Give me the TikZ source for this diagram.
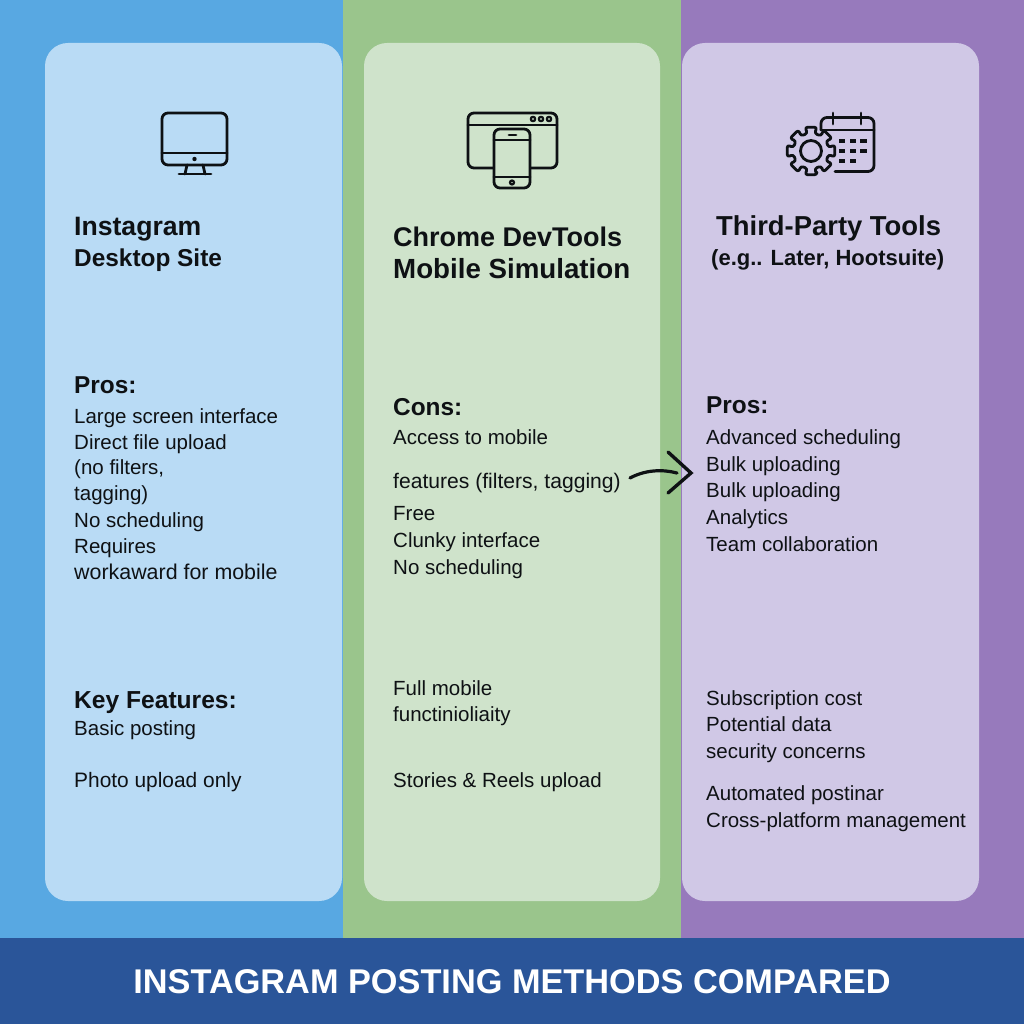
\documentclass[tikz,border=0pt]{standalone}
\usepackage{fontspec}
\setmainfont{Liberation Sans}
\definecolor{blueband}{HTML}{58A8E2}
\definecolor{greenband}{HTML}{9AC58C}
\definecolor{purpleband}{HTML}{977ABC}
\definecolor{bluecard}{HTML}{B9DBF5}
\definecolor{greencard}{HTML}{CFE3CB}
\definecolor{purplecard}{HTML}{D0C8E6}
\definecolor{footerblue}{HTML}{2A5599}
\definecolor{inkdark}{HTML}{0E1114}
\tikzset{
	bodytext/.style={anchor=base west, inner sep=0pt, text=inkdark, font=\fontsize{20.5}{24}\selectfont},
	headtext/.style={anchor=base west, inner sep=0pt, text=inkdark, font=\fontsize{24.4}{28}\selectfont\bfseries},
	titletext/.style={anchor=base west, inner sep=0pt, text=inkdark, font=\fontsize{27}{30}\selectfont\bfseries},
	icon/.style={line width=2.8pt, draw=inkdark, line cap=round, line join=round},
	card/.style={rounded corners=23pt}
}
\begin{document}
\begin{tikzpicture}[x=1pt, y=-1pt]
	\useasboundingbox (0, 0) rectangle (1024, 1024);
	%%%%% bands %%%%%
	\fill[blueband] (0, 0) rectangle (343, 938);
	\fill[greenband] (343, 0) rectangle (681, 938);
	\fill[purpleband] (681, 0) rectangle (1024, 938);
	\fill[footerblue] (0, 938) rectangle (1024, 1024);

	\fill[card, bluecard] (45, 43) rectangle (342, 901);
	\fill[card, greencard] (364, 43) rectangle (660, 901);
	\fill[card, purplecard] (682, 43) rectangle (979, 901);

	%%%%% monitor %%%%%
	\draw[icon, rounded corners=6pt] (162, 113) rectangle (227, 165);
	\draw[icon] (162, 153) -- (227, 153);
	\fill[inkdark] (194.5, 159) circle (2.2);
	\draw[icon] (187, 165) -- (185, 174);
	\draw[icon] (203, 165) -- (205, 174);
	\draw[icon] (179, 174) -- (211, 174);

	%%%%% browser and phone %%%%%
	\draw[icon, rounded corners=6pt] (468, 113) rectangle (557, 168);
	\draw[icon] (468, 125) -- (557, 125);
	\draw[icon, line width=2.2pt] (533, 119) circle (2.2);
	\draw[icon, line width=2.2pt] (541, 119) circle (2.2);
	\draw[icon, line width=2.2pt] (549, 119) circle (2.2);
	\draw[icon, fill=greencard, rounded corners=6pt] (494, 129) rectangle (530, 188);
	\draw[icon] (494, 140) -- (530, 140);
	\draw[icon] (494, 177) -- (530, 177);
	\draw[icon] (509, 135) -- (516, 135);
	\draw[icon, line width=2.2pt] (512, 182.5) circle (2);

	%%%%% calendar and gear %%%%%
	\draw[icon] (821, 130) -- (821, 125) [rounded corners=6pt] -- (821, 117.5) -- (874, 117.5) -- (874, 171.5) -- (835, 171.5);
	\draw[icon] (821, 130) -- (874, 130);
	\draw[icon] (833, 113) -- (833, 124);
	\draw[icon] (861, 113) -- (861, 124);
	\foreach \gridx/\gridy in {842/141, 853/141, 863.5/141, 842/151, 853/151, 863.5/151, 842/161, 853/161} {
		\fill[inkdark] (\gridx-3.2, \gridy-1.8) rectangle (\gridx+3.2, \gridy+1.8);
	}
	\draw[icon, fill=purplecard, shift={(811, 151)}, rounded corners=2.5pt]
		(90-14:24.5) \foreach \tooth in {90, 135, ..., 405} {
			-- (\tooth-14:24.5) -- (\tooth+14:24.5) -- (\tooth+22.5-11:18) -- (\tooth+22.5+11:18)
		} -- cycle;
	\draw[icon] (811, 151) circle (10.5);

	%%%%% left column %%%%%
	\node[titletext, font=\fontsize{26.6}{30}\selectfont\bfseries] (desktopname) at (74, 236) {Instagram};
	\node[headtext] (desktopsite) at (74, 266) {Desktop Site};
	\node[headtext] (desktoppros) at (74, 393) {Pros:};
	\node[bodytext] (desktopa) at (74, 423) {Large screen interface};
	\node[bodytext] (desktopb) at (74, 449) {Direct file upload};
	\node[bodytext] (desktopc) at (74, 474) {(no filters,};
	\node[bodytext] (desktopd) at (74, 500) {tagging)};
	\node[bodytext] (desktope) at (74, 527) {No scheduling};
	\node[bodytext] (desktopf) at (74, 553) {Requires};
	\node[bodytext, font=\fontsize{21.4}{24}\selectfont] (desktopg) at (74, 579) {workaward for mobile};
	\node[headtext, font=\fontsize{24.6}{28}\selectfont\bfseries] (desktopkey) at (74, 708) {Key Features:};
	\node[bodytext] (desktoph) at (74, 735) {Basic posting};
	\node[bodytext, font=\fontsize{20.9}{24}\selectfont] (desktopi) at (74, 787) {Photo upload only};

	%%%%% middle column %%%%%
	\node[titletext] (chromename) at (393, 246) {Chrome DevTools};
	\node[titletext, font=\fontsize{27.7}{30}\selectfont\bfseries] (chromesim) at (393, 278) {Mobile Simulation};
	\node[headtext] (chromecons) at (393, 415) {Cons:};
	\node[bodytext] (chromea) at (393, 444) {Access to mobile};
	\node[bodytext, font=\fontsize{21.1}{24}\selectfont] (chromeb) at (393, 488) {features (filters, tagging)};
	\node[bodytext] (chromec) at (393, 520) {Free};
	\node[bodytext] (chromed) at (393, 547) {Clunky interface};
	\node[bodytext] (chromee) at (393, 574) {No scheduling};
	\node[bodytext] (chromef) at (393, 695) {Full mobile};
	\node[bodytext] (chromeg) at (393, 721) {functinioliaity};
	\node[bodytext] (chromeh) at (393, 787) {Stories \& Reels upload};

	%%%%% right column %%%%%
	\node[titletext, font=\fontsize{27.4}{30}\selectfont\bfseries] (thirdname) at (716, 236) {Third-Party Tools};
	\node[headtext, font=\fontsize{22}{24}\selectfont\bfseries] (thirdnote) at (711, 265) {(e.g.. Later, Hootsuite)};
	\node[headtext] (thirdpros) at (706, 413) {Pros:};
	\node[bodytext] (thirda) at (706, 444) {Advanced scheduling};
	\node[bodytext] (thirdb) at (706, 471) {Bulk uploading};
	\node[bodytext] (thirdc) at (706, 497) {Bulk uploading};
	\node[bodytext] (thirdd) at (706, 524) {Analytics};
	\node[bodytext] (thirde) at (706, 551) {Team collaboration};
	\node[bodytext] (thirdf) at (706, 705) {Subscription cost};
	\node[bodytext] (thirdg) at (706, 731) {Potential data};
	\node[bodytext] (thirdh) at (706, 758) {security concerns};
	\node[bodytext] (thirdi) at (706, 800) {Automated postinar};
	\node[bodytext] (thirdj) at (706, 827) {Cross-platform management};

	%%%%% arrow %%%%%
	\coordinate (arrowstart) at (630, 478);
	\coordinate (arrowend) at (677, 473);
	\draw[line width=3.2pt, draw=inkdark, line cap=round] (arrowstart) .. controls (645, 470) and (662, 469) .. (arrowend);
	\draw[line width=3.4pt, draw=inkdark, line cap=round, line join=miter] (668, 452) -- (691, 473) -- (668, 493);

	%%%%% footer %%%%%
	\node[anchor=base, inner sep=0pt, text=white, font=\fontsize{34.3}{40}\selectfont\bfseries] (footertitle) at (512, 993) {INSTAGRAM POSTING METHODS COMPARED};
\end{tikzpicture}
\end{document}
